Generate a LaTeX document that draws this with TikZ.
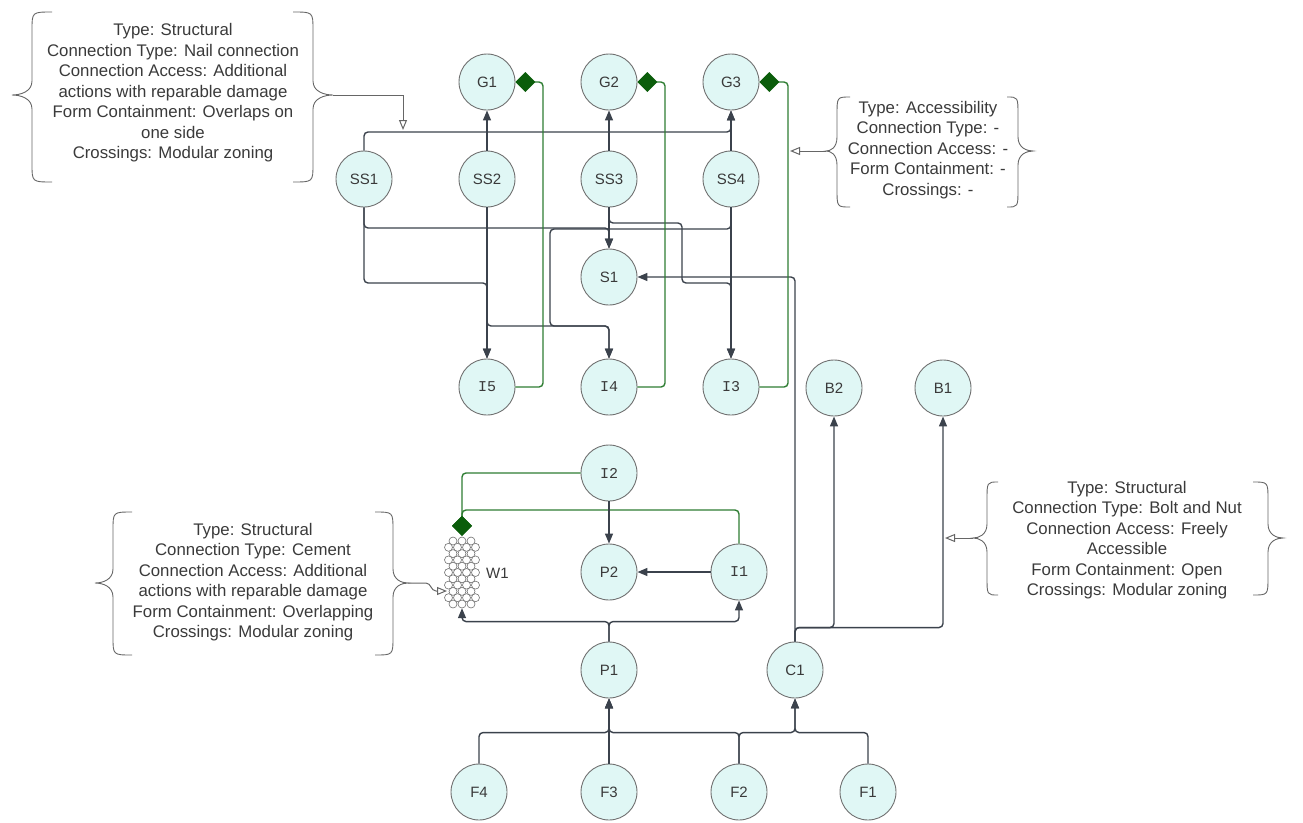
\documentclass[tikz,border=0pt]{standalone}
\usepackage{fontspec}
\setmainfont{Liberation Sans}
\newfontfamily\monof{Liberation Mono}
\usetikzlibrary{arrows.meta}
\definecolor{nodefill}{HTML}{E0F7F5}
\definecolor{nodedraw}{HTML}{707070}
\definecolor{linec}{HTML}{3B424C}
\definecolor{greenc}{HTML}{2E7D32}
\definecolor{diamc}{HTML}{0B5D0B}
\definecolor{textc}{HTML}{3A3A3A}
\definecolor{annc}{HTML}{666666}
\newcommand{\mybrace}[6]{%
  \draw[brc] (#1,#4) .. controls (#2,#4) .. (#2,{#4+18}) -- (#2,{#5-14})
    .. controls (#2,{#5-3}) and ({#3+(#2-#3)*0.4},#5) .. (#3,#5)
    .. controls ({#3+(#2-#3)*0.4},#5) and (#2,{#5+3}) .. (#2,{#5+14})
    -- (#2,{#6-18}) .. controls (#2,#6) .. (#1,#6);}
\begin{document}
\begin{tikzpicture}[x=1pt,y=-1pt,
  ent/.style={circle, draw=nodedraw, fill=nodefill, line width=0.9pt, minimum size=56pt, inner sep=0pt, text=textc, font=\fontsize{15}{18}\selectfont},
  mono/.style={font=\monof\fontsize{15}{18}\selectfont},
  conn/.style={draw=linec, line width=1.4pt, rounded corners=4pt, -{Triangle[length=10pt,width=8pt]}},
  comp/.style={draw=greenc, line width=1.4pt, rounded corners=4pt, -{Diamond[length=20pt,width=20pt,fill=diamc,color=diamc]}},
  brc/.style={draw=annc, line width=0.9pt},
  annarrow/.style={draw=annc, line width=1pt, -{Triangle[length=10pt,width=8pt,fill=white]}},
  anntext/.style={align=center, text=textc, font=\fontsize{16.8}{20.5}\selectfont, inner sep=0pt},
  small/.style={draw=nodedraw, fill=white, line width=0.6pt},
]
\useasboundingbox (0,0) rectangle (1303,822);

% entity nodes
\node[ent] (G1) at (487,82) {G1};
\node[ent] (G2) at (609,82) {G2};
\node[ent] (G3) at (731,82) {G3};
\node[ent] (SS1) at (364,179) {SS1};
\node[ent] (SS2) at (487,179) {SS2};
\node[ent] (SS3) at (609,179) {SS3};
\node[ent] (SS4) at (731,179) {SS4};
\node[ent] (S1) at (609,277) {S1};
\node[ent,mono] (I5) at (487,387) {I5};
\node[ent,mono] (I4) at (609,387) {I4};
\node[ent,mono] (I3) at (731,387) {I3};
\node[ent] (B2) at (834,388) {B2};
\node[ent] (B1) at (943,388) {B1};
\node[ent,mono] (I2) at (609,473) {I2};
\node[ent] (P2) at (609,572) {P2};
\node[ent,mono] (I1) at (739,572) {I1};
\node[ent] (P1) at (609,670) {P1};
\node[ent] (C1) at (795,670) {C1};
\node[ent] (F4) at (479,792) {F4};
\node[ent] (F3) at (609,792) {F3};
\node[ent] (F2) at (739,792) {F2};
\node[ent] (F1) at (868,792) {F1};

% W1 (wall of small circles)
\node[inner sep=0pt, minimum width=36pt, minimum height=72pt] (W1) at (462,572) {};
\foreach \i in {0,...,10}{
  \pgfmathsetmacro\yy{541+\i*6.3}
  \ifodd\i
    \foreach \xx in {448.5,457.5,466.5,475.5} \draw[small] (\xx,\yy) circle (4pt);
  \else
    \foreach \xx in {453,462,471} \draw[small] (\xx,\yy) circle (4pt);
  \fi
}
\node[anchor=west, inner sep=0pt, text=textc, font=\fontsize{15}{18}\selectfont] (W1lab) at (486,573) {W1};

% top connectors
\draw[conn] (SS2.north) -- (G1.south);
\draw[conn] (SS3.north) -- (G2.south);
\draw[conn] (SS4.north) -- (G3.south);
\draw[conn] (SS1.north) |- (731,132) -- (G3.south);
\draw[conn] (SS1.south) |- (609,228) -- (S1.north);
\draw[conn] (SS3.south) -- (S1.north);
\draw[conn] (SS1.south) |- (487,283) -- (I5.north);
\draw[conn] (SS2.south) -- (I5.north);
\draw[conn] (SS2.south) |- (609,326) -- (I4.north);
\draw[conn] (SS4.south) |- (550,229) |- (609,326) -- (I4.north);
\draw[conn] (SS4.south) -- (I3.north);
\draw[conn] (SS3.south) |- (682,223) |- (731,283) -- (I3.north);
\draw[conn] (C1.north) |- (S1.east);
\draw[conn] (C1.north) -- ++(0,-14) -| (B2.south);
\draw[conn] (C1.north) -- ++(0,-14) -| (B1.south);

% green compositions
\draw[comp] (I5.east) -| (543,82) -- (G1.east);
\draw[comp] (I4.east) -| (665,82) -- (G2.east);
\draw[comp] (I3.east) -| (788,82) -- (G3.east);
\coordinate (w1top) at (462,510);
\draw[comp] (I1.north) |- (w1top) -- (W1.north);
\draw[comp] (I2.west) -| (W1.north);

% lower connectors
\draw[conn] (I2.south) -- (P2.north);
\draw[conn] (I1.west) -- (P2.east);
\draw[conn] (P1.north) -- ++(0,-20) -| (W1.south);
\draw[conn] (P1.north) -- ++(0,-20) -| (I1.south);
\draw[conn] (F4.north) -- ++(0,-31) -| (P1.south);
\draw[conn] (F3.north) -- (P1.south);
\draw[conn] (F2.north) -- ++(0,-31) -| (P1.south);
\draw[conn] (F2.north) -- ++(0,-31) -| (C1.south);
\draw[conn] (F1.north) -- ++(0,-31) -| (C1.south);

% annotations
\node[anntext] (N1) at (173,93) {Type: Structural\\Connection Type: Nail connection\\Connection Access: Additional\\actions with reparable damage\\Form Containment: Overlaps on\\one side\\Crossings: Modular zoning};
\mybrace{52}{32}{12}{12}{95}{182}
\mybrace{293}{313}{333}{12}{95}{182}
\coordinate (t1) at (333,95);
\coordinate (e1) at (403,130);
\draw[annarrow] (t1) -| (e1);

\node[anntext] (N2) at (928,150) {Type: Accessibility\\Connection Type: -\\Connection Access: -\\Form Containment: -\\Crossings: -};
\mybrace{850}{837}{826}{97}{151}{207}
\mybrace{1007}{1018}{1033}{97}{151}{207}
\coordinate (t2) at (826,151);
\coordinate (e2) at (790,151);
\draw[annarrow] (t2) -- (e2);

\node[anntext] (N3) at (1127,540) {Type: Structural\\Connection Type: Bolt and Nut\\Connection Access: Freely\\Accessible\\Form Containment: Open\\Crossings: Modular zoning};
\mybrace{998}{987}{973}{482}{538}{595}
\mybrace{1253}{1268}{1283}{482}{538}{595}
\coordinate (t3) at (973,538);
\coordinate (e3) at (945,538);
\draw[annarrow] (t3) -- (e3);

\node[anntext] (N4) at (253,582) {Type: Structural\\Connection Type: Cement\\Connection Access: Additional\\actions with reparable damage\\Form Containment: Overlapping\\Crossings: Modular zoning};
\mybrace{132}{113}{95}{512}{583}{655}
\mybrace{375}{393}{408}{512}{583}{655}
\coordinate (t4) at (408,583);
\coordinate (e4) at (447,591);
\draw[annarrow] (t4) -- (426,583) to[out=0,in=180] (436,591) -- (e4);
\end{tikzpicture}
\end{document}
